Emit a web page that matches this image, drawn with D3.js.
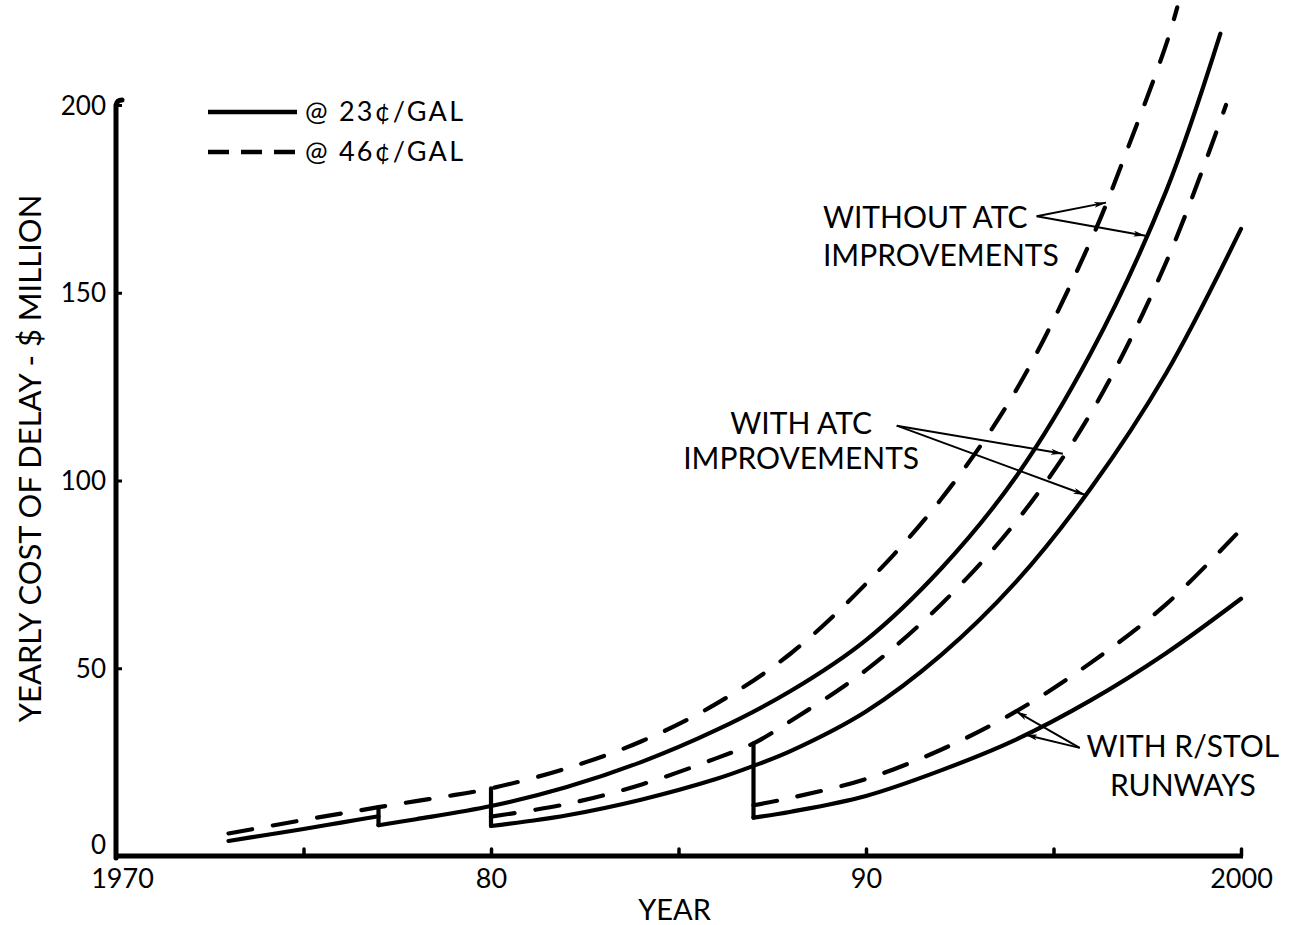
<!DOCTYPE html>
<html>
<head>
<meta charset="utf-8">
<script src="https://cdn.jsdelivr.net/npm/d3@7"></script>
<style>
  html, body { margin: 0; padding: 0; background: #fff; }
  svg { display: block; }
  text { font-family: Lato, "DejaVu Sans", sans-serif; fill: #000; }
</style>
</head>
<body>
<svg id="chart" width="1292" height="925"></svg>
<script>
// ---- axis ticks ----
const xTickYears  = [1970, 1975, 1980, 1985, 1990, 1995, 2000];
const xTickLabels = ["1970", "", "80", "", "90", "", "2000"];
const yTickValues = [0, 50, 100, 150, 200];

// ---- yearly cost of delay, $ million: [year, value] ----
// without ATC improvements
const without23Early = [[1973, 4], [1974, 5.6], [1975, 7.2], [1976, 8.9], [1977, 10.6]];
const without23 = [[1977, 8.2], [1978, 9.8], [1980, 13.3], [1982, 18.3], [1984, 25], [1986, 33.5],
                   [1988, 44], [1990, 57.5], [1992, 76.5], [1994, 101], [1996, 134], [1998, 177], [1999.45, 219]];
const without46 = [[1973, 6], [1974, 7.8], [1975, 9.6], [1976, 11.3], [1977, 13], [1978, 14.6], [1979, 16.2],
                   [1980, 18], [1982, 23.3], [1984, 30.5], [1986, 40.5], [1988, 54], [1990, 72.5], [1992, 95],
                   [1994, 124], [1996, 164], [1997, 189], [1998, 216], [1998.3, 226]];
// with ATC improvements
const with23 = [[1980, 8], [1982, 10.8], [1984, 15], [1986, 20.5], [1987, 24], [1988, 28], [1990, 38.5],
                [1992, 53.5], [1994, 73], [1996, 98], [1998, 128.5], [2000, 167]];
const with46 = [[1980, 10.5], [1982, 13.8], [1984, 19], [1986, 26], [1987, 30], [1988, 36], [1990, 49.5],
                [1992, 67], [1994, 89], [1996, 118], [1998, 158], [1999.6, 200]];
// with R/STOL runways
const rstol23 = [[1987, 10.2], [1988, 11.8], [1990, 16], [1992, 22.8], [1994, 31], [1996, 41.5], [1998, 54], [2000, 68.5]];
const rstol46 = [[1987, 13.5], [1988, 15.5], [1990, 20.5], [1992, 28.3], [1994, 38.5], [1996, 51.5], [1998, 67], [2000, 87]];

// ---- layout ----
const svg = d3.select("#chart");
const x = d3.scaleLinear().domain([1970, 2000]).range([116, 1241]);
const y = d3.scaleLinear().domain([0, 200]).range([856, 105]);

const series = {
  without23Early: { data: without23Early, dashed: false },
  without23:      { data: without23,      dashed: false },
  without46:      { data: without46,      dashed: true  },
  with23:         { data: with23,         dashed: false },
  with46:         { data: with46,         dashed: true  },
  rstol23:        { data: rstol23,        dashed: false },
  rstol46:        { data: rstol46,        dashed: true  }
};

// value of a series at a given year (linear between points)
function valueAt(data, year) {
  for (let i = 1; i < data.length; i++) {
    const [x0, v0] = data[i - 1], [x1, v1] = data[i];
    if (year >= x0 && year <= x1) return v0 + (v1 - v0) * (year - x0) / (x1 - x0);
  }
  return data[data.length - 1][1];
}

// vertical drops where a new program takes effect
const steps = [
  { year: 1977, top: "without46", bottom: "without23" },
  { year: 1980, top: "without46", bottom: "with23" },
  { year: 1987, top: "with46",    bottom: "rstol23" }
];

// ---- axes ----
const yAxis = d3.axisLeft(y).tickValues(yTickValues).tickSizeInner(-6).tickSizeOuter(0).tickPadding(10);
const gy = svg.append("g").attr("transform", `translate(${x(1970)},0)`).call(yAxis);
gy.select(".domain").attr("stroke", "#000").attr("stroke-width", 5).attr("stroke-linecap", "round")
  .attr("d", `M0,${y(0) + 2}V${y(200)} q1,-5 6,-5`);
gy.selectAll(".tick line").attr("stroke", "#000").attr("stroke-width", 3);
gy.selectAll(".tick text").style("font-size", "26px").attr("dy", d => d === 0 ? "-0.1em" : "0.35em");

const xAxis = d3.axisBottom(x).tickValues(xTickYears).tickSizeInner(-7).tickSizeOuter(0).tickPadding(0)
  .tickFormat((d, i) => xTickLabels[i]);
const gx = svg.append("g").attr("transform", `translate(0,${y(0)})`).call(xAxis);
gx.select(".domain").attr("stroke", "#000").attr("stroke-width", 5).attr("d", `M${x(1970) - 2},0H${x(2000) + 2}`);
gx.selectAll(".tick line").attr("stroke", "#000").attr("stroke-width", 3.5).attr("stroke-linecap", "round")
  .filter(d => d === 1970).remove();
gx.selectAll(".tick text").style("font-size", "27px").attr("y", 32).attr("dy", 0)
  .attr("dx", d => d === 1970 ? 6 : 0);

// axis titles
svg.append("text").attr("x", x(1985) - 4).attr("y", 920).attr("text-anchor", "middle")
  .style("font-size", "29px").text("YEAR");
svg.append("text").attr("transform", `translate(41,${(y(0) + y(200)) / 2 - 22}) rotate(-90)`)
  .attr("text-anchor", "middle").style("font-size", "31px").text("YEARLY COST OF DELAY - $ MILLION");

// ---- curves ----
const line = d3.line().x(d => x(d[0])).y(d => y(d[1])).curve(d3.curveCatmullRom.alpha(0.5));
const gCurves = svg.append("g").attr("fill", "none").attr("stroke", "#000");
Object.entries(series).forEach(([name, s]) => {
  gCurves.append("path")
    .attr("class", "curve " + name)
    .attr("d", line(s.data))
    .attr("stroke-width", 4.2)
    .attr("stroke-linecap", "round")
    .attr("stroke-dasharray", s.dashed ? "24,21" : null);
});
steps.forEach(st => {
  const vTop = valueAt(series[st.top].data, st.year);
  const vBot = series[st.bottom].data[0][1];
  gCurves.append("path")
    .attr("d", `M${x(st.year)},${y(vTop)}V${y(vBot)}`)
    .attr("stroke-width", 4.2)
    .attr("stroke-linecap", "round");
});

// ---- annotations ----
const defs = svg.append("defs");
defs.append("marker").attr("id", "arrow").attr("viewBox", "0 0 12 6")
  .attr("refX", 12).attr("refY", 3).attr("markerWidth", 13).attr("markerHeight", 6)
  .attr("markerUnits", "userSpaceOnUse").attr("orient", "auto")
  .append("path").attr("d", "M0,0L12,3L0,6L3,3Z").attr("fill", "#000");

const annotations = [
  { lines: ["WITHOUT ATC", "IMPROVEMENTS"], anchor: "start", at: [1988.85, 167.3], lineGap: 38,
    tail: [1994.55, 170.4], targets: [["without46", 1996.4], ["without23", 1997.45]] },
  { lines: ["WITH ATC", "IMPROVEMENTS"], anchor: "middle", at: [1988.27, 112.3], lineGap: 35,
    tail: [1990.82, 114.6], targets: [["with46", 1995.25], ["with23", 1995.85]] },
  { lines: ["WITH R/STOL", "RUNWAYS"], anchor: "middle", at: [1998.45, 26.4], lineGap: 39,
    tail: [1995.7, 28.8], targets: [["rstol46", 1994.0], ["rstol23", 1994.25]] }
];
const gAnn = svg.append("g");
annotations.forEach(a => {
  a.lines.forEach((t, i) => {
    gAnn.append("text").attr("x", x(a.at[0])).attr("y", y(a.at[1]) + i * a.lineGap)
      .attr("text-anchor", a.anchor).style("font-size", "30px").text(t);
  });
  a.targets.forEach(([name, yr]) => {
    gAnn.append("line")
      .attr("x1", x(a.tail[0])).attr("y1", y(a.tail[1]))
      .attr("x2", x(yr)).attr("y2", y(valueAt(series[name].data, yr)))
      .attr("stroke", "#000").attr("stroke-width", 2)
      .attr("marker-end", "url(#arrow)");
  });
});

// ---- legend ----
const legendItems = [
  { label: "@ 23\u00A2/GAL", dashed: false },
  { label: "@ 46\u00A2/GAL", dashed: true }
];
const gLeg = svg.append("g").attr("transform", "translate(208,112)");
legendItems.forEach((it, i) => {
  const row = gLeg.append("g").attr("transform", `translate(0,${i * 40})`);
  row.append("line").attr("x1", 0).attr("x2", 89).attr("y1", 0).attr("y2", 0)
    .attr("stroke", "#000").attr("stroke-width", 4.5)
    .attr("stroke-dasharray", it.dashed ? "21,12" : null);
  row.append("text").attr("x", 97).attr("y", 9).style("font-size", "27px")
    .attr("textLength", 158).attr("lengthAdjust", "spacing").text(it.label);
});
</script>
</body>
</html>
